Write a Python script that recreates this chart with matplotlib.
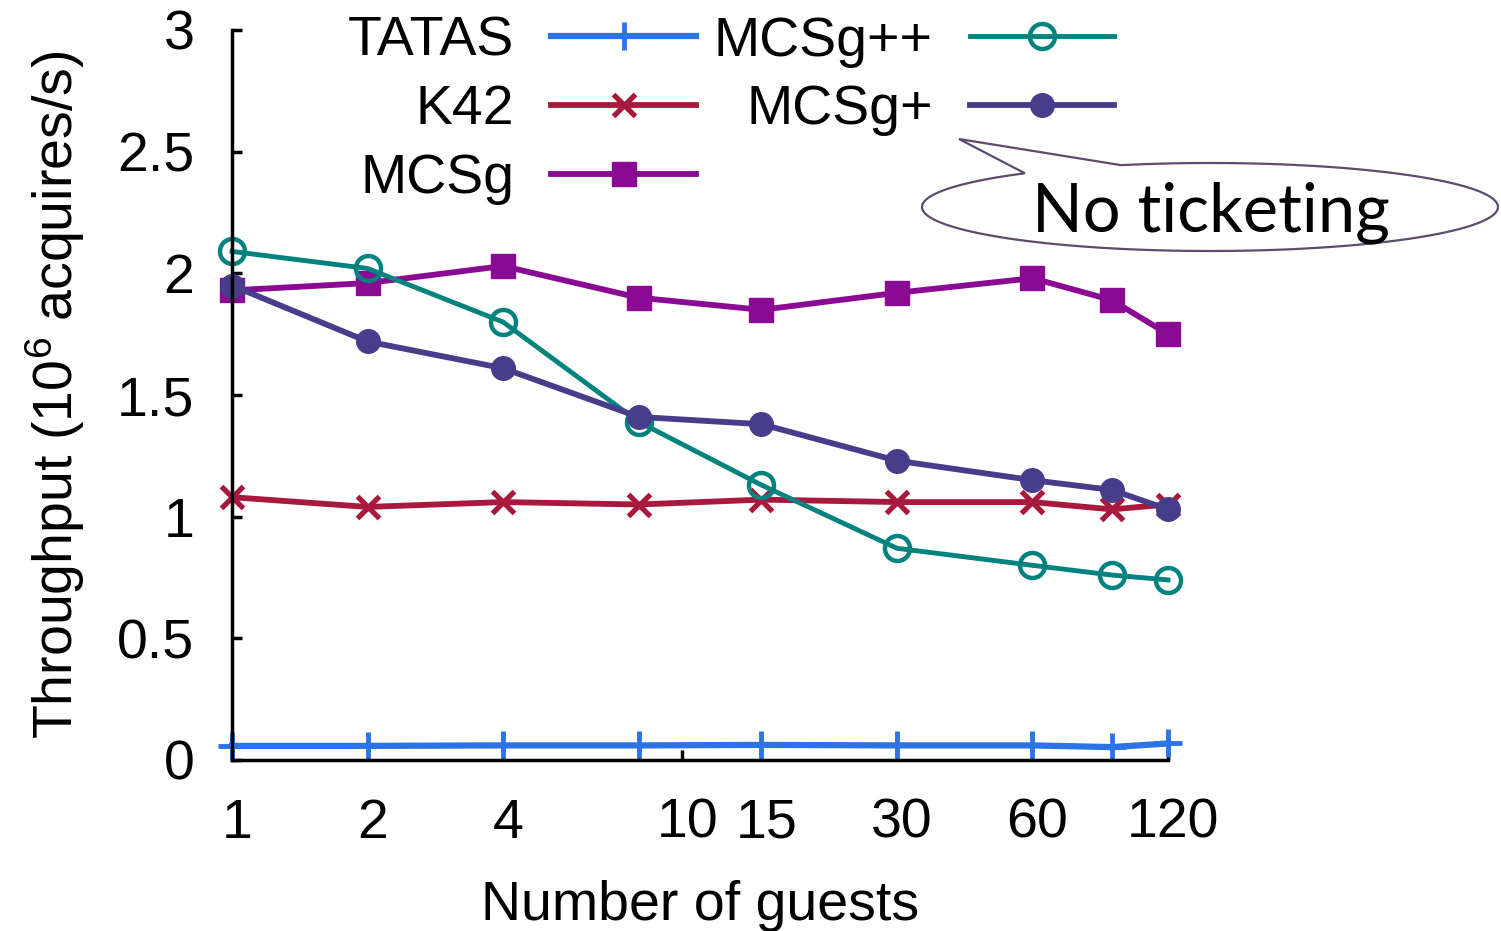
#!/usr/bin/env python3
# Throughput vs number of guests, lock variants
import numpy as np
import matplotlib
matplotlib.use("Agg")
import matplotlib.pyplot as plt
from matplotlib.path import Path
from matplotlib.patches import PathPatch
from matplotlib.transforms import ScaledTranslation

guests = [1, 2, 4, 8, 15, 30, 60, 90, 120]
xticks = [1, 2, 4, 10, 15, 30, 60, 120]
yticks = [0, 0.5, 1, 1.5, 2, 2.5, 3]

tatas = [0.058, 0.058, 0.06, 0.06, 0.062, 0.06, 0.06, 0.053, 0.068]
k42 = [1.08, 1.04, 1.06, 1.05, 1.07, 1.06, 1.06, 1.03, 1.05]
mcsg = [1.93, 1.96, 2.03, 1.90, 1.85, 1.92, 1.98, 1.89, 1.75]
mcsg_pp = [2.09, 2.02, 1.80, 1.39, 1.13, 0.87, 0.80, 0.76, 0.74]
mcsg_p = [1.95, 1.72, 1.61, 1.41, 1.38, 1.23, 1.15, 1.11, 1.03]

plt.rcParams['font.family'] = ['Liberation Sans', 'DejaVu Sans']
plt.rcParams['font.size'] = 40

W, H = 1501, 931
fig = plt.figure(figsize=(W / 100, H / 100), dpi=100)
ax = fig.add_axes([232 / W, 1 - 760 / H, (1168 - 232) / W, (760 - 30) / H])

ax.plot(guests, tatas, color='#2b74e6', lw=4.5, marker='+', ms=20, mew=3.5,
        label='TATAS', clip_on=False)
ax.plot(guests, k42, color='#a8193d', lw=4.2, marker='x', ms=16, mew=3.8,
        label='K42', clip_on=False)
ax.plot(guests, mcsg, color='#8b0a93', lw=4.2, marker='s', ms=17,
        label='MCSg', clip_on=False)
ax.plot(guests, mcsg_pp, color='#00827f', lw=3.5, marker='o', ms=18, mfc='none',
        mew=3.2, label='MCSg++', clip_on=False)
ax.plot(guests, mcsg_p, color='#473d8b', lw=4.2, marker='o', ms=17,
        label='MCSg+', clip_on=False)

ax.set_xscale('log')
ax.set_xlim(1, 120)
ax.set_ylim(0, 3)
ax.set_xticks(xticks)
ax.set_xticklabels([str(t) for t in xticks])
ax.minorticks_off()
ax.set_yticks(yticks)
ax.set_yticklabels(['0', '0.5', '1', '1.5', '2', '2.5', '3'])
for s in ['top', 'right']:
    ax.spines[s].set_visible(False)
for s in ['left', 'bottom']:
    ax.spines[s].set_linewidth(2.5)
ax.tick_params(direction='in', length=7, width=2.5, pad=27)
for lab in ax.get_xticklabels():
    lab.set_transform(lab.get_transform() + ScaledTranslation(5 / 100, 0, fig.dpi_scale_trans))

ax.set_xlabel('Number of guests', labelpad=22)
ax.set_ylabel(r'Throughput ($\mathregular{10^6}$ acquires/s)', labelpad=22)

leg = ax.legend(ncol=2, markerfirst=False, frameon=False, loc='upper right',
                bbox_to_anchor=(1142 / W, 1 + 12 / H), bbox_transform=fig.transFigure,
                borderpad=0, handlelength=2.6, handletextpad=0.67,
                columnspacing=0.32, labelspacing=0.30)

# "No ticketing" speech bubble
cx, cy, a, b = 1210, 207, 288, 44
t = np.radians(np.linspace(108, 130 - 360, 200))
px = cx + a * np.cos(t)
py = cy - b * np.sin(t)
verts = list(zip(px, py)) + [(959, 139), (px[0], py[0])]
verts = [(x / W, 1 - y / H) for x, y in verts]
bubble = PathPatch(Path(verts, closed=True), transform=fig.transFigure,
                   facecolor='white', edgecolor='#5e4b6e', lw=1.6)
fig.patches.append(bubble)
fig.text(1211 / W, 1 - 232 / H, 'No ticketing', family=['Lato', 'DejaVu Sans'],
         fontsize=48, ha='center', va='baseline')

fig.savefig('out.png', dpi=100)
